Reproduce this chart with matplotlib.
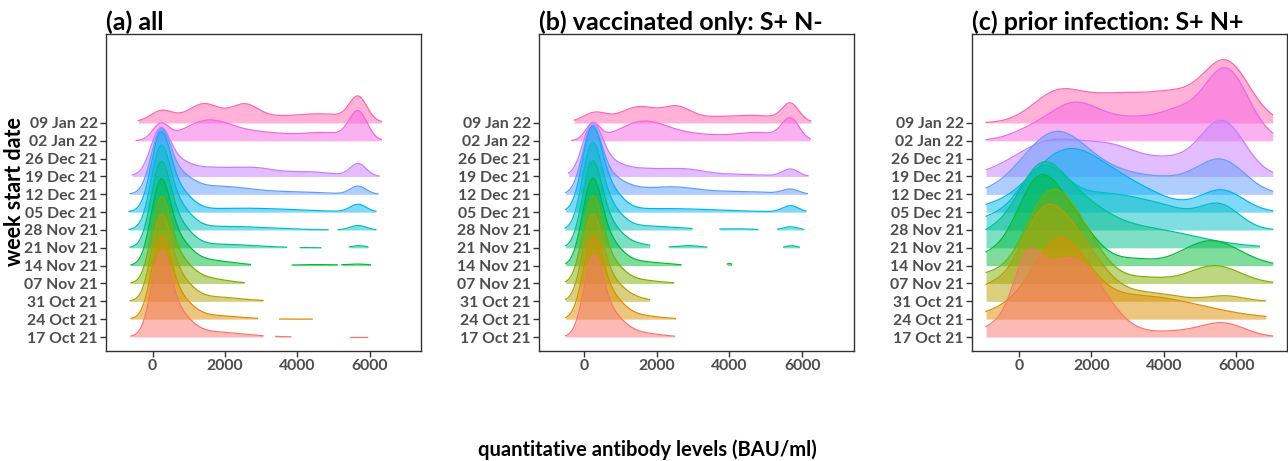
import numpy as np
import matplotlib.pyplot as plt

plt.rcParams['font.family'] = ['Lato', 'DejaVu Sans']
plt.rcParams['font.weight'] = 'bold'

# y axis categories (week start dates); no samples in the 26 Dec 21 week
weeks = ['17 Oct 21', '24 Oct 21', '31 Oct 21', '07 Nov 21', '14 Nov 21',
         '21 Nov 21', '28 Nov 21', '05 Dec 21', '12 Dec 21', '19 Dec 21',
         '26 Dec 21', '02 Jan 22', '09 Jan 22']
ridge_weeks = [w for w in weeks if w != '26 Dec 21']

colours = ['#F8766D', '#DE8C00', '#B79F00', '#7CAE00', '#00BA38', '#00C08B',
           '#00BFC4', '#00B4F0', '#619CFF', '#C77CFF', '#F564E3', '#FF64B0']

# density of each week as bumps: (antibody level BAU/ml, spread, ridge height)
all_peaks = [
    [(220, 260, 4.0), (650, 380, 1.2), (1500, 900, 0.3)],
    [(220, 260, 3.9), (650, 380, 1.2), (1500, 800, 0.22)],
    [(220, 260, 4.1), (650, 380, 1.3), (1600, 800, 0.25)],
    [(220, 260, 4.1), (650, 380, 1.3), (1400, 600, 0.3)],
    [(210, 260, 4.1), (650, 380, 1.3), (1500, 700, 0.3), (4500, 600, 0.06), (5700, 300, 0.08)],
    [(210, 260, 4.1), (650, 380, 1.3), (1800, 1000, 0.2), (5700, 200, 0.12)],
    [(210, 260, 4.0), (650, 380, 1.3), (2000, 1200, 0.2), (5680, 220, 0.25)],
    [(210, 260, 3.8), (650, 380, 1.2), (2500, 1500, 0.22), (5680, 220, 0.42)],
    [(210, 260, 3.0), (650, 400, 1.0), (1800, 900, 0.45), (4000, 800, 0.12), (5680, 220, 0.45)],
    [(200, 260, 2.2), (600, 380, 0.6), (1600, 1000, 0.5), (2900, 500, 0.25), (4300, 700, 0.25),
     (5680, 220, 0.7)],
    [(220, 220, 0.85), (1500, 650, 1.05), (3000, 900, 0.45), (4800, 600, 0.4), (5680, 250, 1.55)],
    [(250, 300, 0.55), (1400, 400, 0.75), (2550, 350, 0.65), (2500, 1600, 0.42), (4800, 700, 0.35),
     (5680, 240, 1.3)],
]
all_ranges = [
    [(-600, 3050), (3400, 3820), (5460, 5930)],
    [(-600, 2900), (3510, 4410)],
    [(-620, 3050)],
    [(-600, 2530)],
    [(-600, 2700), (3860, 5100), (5230, 6020)],
    [(-620, 3700), (4080, 4650), (5440, 5950)],
    [(-650, 4850), (5130, 6170)],
    [(-650, 6170)],
    [(-620, 6230)],
    [(-560, 6260)],
    [(-460, 6320)],
    [(-395, 6320)],
]

vacc_peaks = [
    [(250, 260, 3.9), (680, 380, 1.2), (1400, 600, 0.25)],
    [(230, 260, 3.9), (650, 380, 1.3), (1400, 600, 0.22)],
    [(220, 260, 4.1), (620, 380, 1.3), (1300, 400, 0.2)],
    [(220, 260, 4.1), (620, 380, 1.3), (1400, 600, 0.2)],
    [(210, 260, 4.1), (620, 380, 1.3), (1500, 700, 0.22), (4000, 80, 0.12)],
    [(210, 260, 4.1), (620, 380, 1.3), (1400, 500, 0.2), (2900, 300, 0.12), (5700, 150, 0.12)],
    [(210, 260, 4.1), (620, 380, 1.3), (1700, 900, 0.22), (4200, 500, 0.06), (5680, 200, 0.18)],
    [(210, 260, 4.0), (620, 380, 1.3), (2200, 1500, 0.2), (5680, 220, 0.35)],
    [(210, 260, 3.2), (620, 400, 1.0), (1300, 400, 0.2), (2400, 700, 0.4), (4300, 900, 0.15),
     (5680, 220, 0.25)],
    [(220, 260, 2.5), (600, 380, 0.6), (1500, 900, 0.45), (2850, 500, 0.25), (4200, 800, 0.12),
     (5680, 220, 0.4)],
    [(250, 200, 0.9), (1600, 650, 1.0), (3000, 900, 0.35), (4800, 600, 0.42), (5680, 240, 1.15)],
    [(300, 300, 0.45), (1500, 450, 0.6), (2550, 350, 0.55), (2500, 1600, 0.38), (4800, 700, 0.28),
     (5680, 230, 0.95)],
]
vacc_ranges = [
    [(-500, 2490)],
    [(-500, 2520)],
    [(-500, 1800)],
    [(-500, 2470)],
    [(-500, 2670), (3940, 4060)],
    [(-500, 1810), (2350, 3380), (5490, 5920)],
    [(-520, 2970), (3740, 4780), (5320, 6040)],
    [(-500, 6100)],
    [(-500, 6140)],
    [(-420, 6160)],
    [(-338, 6220)],
    [(-265, 6235)],
]

prior_peaks = [
    [(-700, 450, 0.5), (200, 380, 3.0), (1100, 750, 3.3), (2000, 700, 2.0), (4300, 900, 0.3),
     (5650, 600, 0.7)],
    [(-600, 600, 0.3), (1100, 750, 4.0), (3300, 1700, 1.3)],
    [(-900, 500, 0.7), (650, 650, 4.4), (1700, 700, 2.6), (3600, 800, 0.45), (5700, 500, 0.3)],
    [(-900, 500, 0.45), (750, 650, 4.3), (1700, 650, 2.3), (3500, 600, 0.3), (5400, 700, 1.0)],
    [(-900, 500, 0.5), (500, 600, 4.3), (1500, 650, 2.2), (3200, 500, 0.3), (5300, 800, 1.4)],
    [(-900, 600, 0.7), (550, 650, 3.7), (1600, 800, 1.8), (3300, 1500, 1.1)],
    [(-900, 500, 0.5), (600, 650, 2.8), (2400, 1300, 2.0), (4200, 700, 0.5), (5550, 550, 1.3)],
    [(-900, 500, 0.15), (1300, 1000, 3.3), (3100, 1000, 1.2), (5600, 600, 1.2)],
    [(1000, 900, 3.4), (2800, 900, 0.9), (4300, 800, 0.6), (5600, 650, 1.8)],
    [(900, 1000, 1.95), (2700, 800, 1.35), (4200, 600, 0.7), (5600, 620, 3.1)],
    [(300, 600, 0.45), (1500, 700, 1.85), (3300, 1000, 1.25), (4400, 500, 0.8), (5700, 620, 4.0)],
    [(1000, 650, 1.3), (2800, 1200, 1.65), (4300, 600, 0.8), (5700, 650, 3.4)],
]
prior_ranges = [
    [(-908, 7000)],
    [(-908, 6811)],
    [(-908, 6800)],
    [(-908, 7000)],
    [(-908, 7000)],
    [(-908, 6630)],
    [(-908, 7000)],
    [(-908, 7000)],
    [(-908, 7000)],
    [(-908, 7000)],
    [(-908, 7000)],
    [(-908, 7000)],
]

titles = ['(a) all', '(b) vaccinated only: S+ N-', '(c) prior infection: S+ N+']
panels = [(all_peaks, all_ranges), (vacc_peaks, vacc_ranges), (prior_peaks, prior_ranges)]
x_limits = [(-1288, 7417), (-1233, 7425), (-1295, 7395)]
lefts = [106, 539, 972]


def ridge_height(x, peaks):
    h = np.zeros_like(x)
    for centre, spread, height in peaks:
        h += height * np.exp(-0.5 * ((x - centre) / spread) ** 2)
    return h


W, H = 1288, 461
fig = plt.figure(figsize=(W / 100, H / 100), dpi=100)

for p, (peaks, ranges) in enumerate(panels):
    ax = fig.add_axes([lefts[p] / W, 1 - 351 / H, 315 / W, 317 / H])
    # lower weeks are drawn over the ones above them
    for k in reversed(range(len(ridge_weeks))):
        row = weeks.index(ridge_weeks[k])
        z = 2 + (len(ridge_weeks) - k) * 2
        for lo, hi in ranges[k]:
            x = np.linspace(lo, hi, 400)
            y = row + ridge_height(x, peaks[k])
            ax.fill_between(x, row, y, color=colours[k], alpha=0.5, lw=0, zorder=z)
            ax.plot(x, y, color=colours[k], lw=0.9, zorder=z + 1)

    ax.set_xlim(*x_limits[p])
    ax.set_ylim(-0.785, 16.99)
    ax.set_xticks([0, 2000, 4000, 6000])
    ax.set_yticks(range(len(weeks)))
    ax.set_yticklabels(weeks)
    ax.tick_params(direction='out', length=4, width=1, color='#333333',
                   labelcolor='#4D4D4D', labelsize=11.3, pad=2)
    for s in ax.spines.values():
        s.set_color('#333333')
        s.set_linewidth(1)
    ax.set_title(titles[p], loc='left', fontsize=18, fontweight='bold', pad=3, color='black')

fig.text(15 / W, 1 - 192 / H, 'week start date', rotation=90, ha='center', va='center',
         fontsize=15.5, fontweight='bold')
fig.text(647 / W, 1 - 450 / H, 'quantitative antibody levels (BAU/ml)', ha='center', va='center',
         fontsize=14.5, fontweight='bold')

fig.savefig('out.png', dpi=100)
